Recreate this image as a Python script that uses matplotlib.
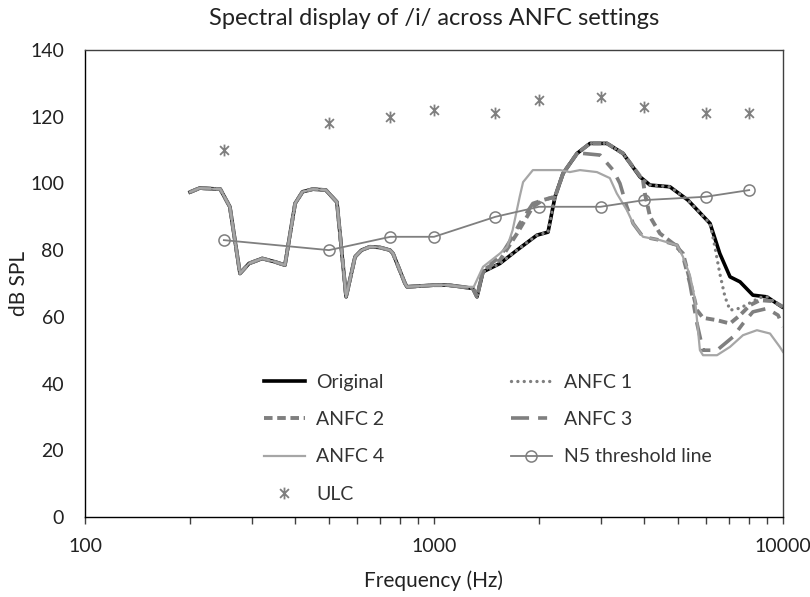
import matplotlib
matplotlib.use("Agg")
import matplotlib.pyplot as plt
from matplotlib.path import Path
from matplotlib.ticker import FixedLocator, FixedFormatter, NullFormatter, LogLocator

plt.rcParams['font.family'] = ['Lato', 'DejaVu Sans']

# ---- data ----
# shared low band (all settings identical below ~1.3 kHz)
low_freq = [200, 213, 244, 260, 278, 295, 322, 350, 374, 400, 420, 450, 490, 527,
            560, 594, 620, 655, 700, 748, 763, 826, 837, 900, 1000, 1100, 1200, 1293, 1328]
low_db = [97.4, 98.6, 98.3, 93, 73, 76, 77.5, 76.5, 75.5, 94, 97.5, 98.3, 98, 94.4,
          66, 78, 80, 81, 80.8, 80, 79, 70, 69, 69.2, 69.5, 69.5, 69, 68.5, 66]

orig_hi_freq = [1382, 1545, 1729, 1973, 2122, 2222, 2343, 2570, 2800, 3130, 3480, 3890,
                4160, 4740, 5340, 6180, 6590, 7050, 7530, 8200, 8990, 9930]
orig_hi_db = [73.5, 76, 80, 84.5, 85.4, 96, 103, 109, 112, 112, 109, 102,
              99.5, 99, 95, 88, 79, 72, 70.5, 66.5, 66, 63]

anfc1_hi_freq = [1382, 1545, 1729, 1973, 2122, 2222, 2343, 2570, 2800, 3130, 3480, 3890,
                 4160, 4740, 5340, 6180, 6380, 6590, 6820, 7050, 7530, 8150, 8590, 9000, 9930]
anfc1_hi_db = [73.5, 76, 80, 84.5, 85.4, 96, 103, 109, 112, 112, 109, 102,
               99.5, 99, 95, 88, 81, 73, 66, 62, 62.6, 64.5, 65.8, 66, 63]

anfc2_hi_freq = [1382, 1545, 1730, 1920, 2050, 2222, 2343, 2570, 2800, 3130, 3480, 3970,
                 4020, 4160, 4440, 4840, 5170, 5410, 5670, 5900, 6470, 7050, 7530, 8040,
                 8590, 9360, 10000]
anfc2_hi_db = [74, 77, 85, 93, 95, 96, 103, 109, 112, 112, 109, 101,
               97, 90, 85, 82, 79, 71, 62, 59.7, 59, 58, 60.5, 63.5,
               65, 64.7, 63]

anfc3_hi_freq = [1382, 1545, 1680, 1760, 1920, 2050, 2222, 2343, 2570, 2670, 2990, 3260,
                 3410, 3570, 3720, 3970, 4440, 4970, 5170, 5410, 5670, 5900, 6470, 7190,
                 7680, 8200, 8990, 9680, 10000]
anfc3_hi_db = [74, 78, 84, 88, 94, 95, 96, 103, 109, 109, 108.5, 104,
               100, 93, 88, 84, 83, 81.5, 78, 70, 58, 50, 50, 54,
               58, 61.5, 62.5, 60.5, 57]

anfc4_hi_freq = [1300, 1382, 1545, 1620, 1680, 1760, 1800, 1920, 2050, 2300, 2450, 2620,
                 2930, 3190, 3340, 3570, 3720, 3970, 4440, 4970, 5170, 5410, 5600, 5780,
                 5900, 6470, 7050, 7680, 8420, 9180, 9790, 10000]
anfc4_hi_db = [69, 75, 79, 81, 86, 96, 100.4, 104, 104, 104, 103.4, 104,
               103.4, 101.6, 97, 92, 88, 84, 83, 81.5, 78, 72.5, 65, 50,
               48.5, 48.5, 51, 54.5, 56, 55, 51, 49.5]

n5_freq = [250, 500, 750, 1000, 1500, 2000, 3000, 4000, 6000, 8000]
n5_db = [83, 80, 84, 84, 90, 93, 93, 95, 96, 98]

ulc_freq = [250, 500, 750, 1000, 1500, 2000, 3000, 4000, 6000, 8000]
ulc_db = [110, 118, 120, 122, 121, 125, 126, 123, 121, 121]

x_ticks = [100, 1000, 10000]
x_tick_labels = ['100', '1000', '10000']
y_ticks = [0, 20, 40, 60, 80, 100, 120, 140]

# ---- figure ----
fig = plt.figure(figsize=(8.1, 5.97), dpi=100)
ax = fig.add_axes([85 / 810, 1 - 517 / 597, 698 / 810, 467 / 597])

gray = '#7f7f7f'
lgray = '#a6a6a6'

h_orig, = ax.plot(low_freq + orig_hi_freq, low_db + orig_hi_db, color='black', lw=2.6,
                  label='Original', solid_joinstyle='round')
h_a1, = ax.plot(low_freq + anfc1_hi_freq, low_db + anfc1_hi_db, color=gray, lw=2.4,
                linestyle=(0, (0.01, 1.9)), dash_capstyle='round', label='ANFC 1')
h_a2, = ax.plot(low_freq + anfc2_hi_freq, low_db + anfc2_hi_db, color=gray, lw=2.8,
                linestyle=(0, (2.2, 1.2)), label='ANFC 2')
h_a3, = ax.plot(low_freq + anfc3_hi_freq, low_db + anfc3_hi_db, color=gray, lw=2.6,
                linestyle=(0, (5, 2.5, 2.5, 2.5)), label='ANFC 3')
h_a4, = ax.plot(low_freq[:-2] + anfc4_hi_freq, low_db[:-2] + anfc4_hi_db, color=lgray,
                lw=1.6, label='ANFC 4')
h_n5, = ax.plot(n5_freq, n5_db, color=gray, lw=1.3, marker='o', ms=8,
                mfc='none', mec=gray, mew=1.1, label='N5 threshold line')

star = Path([(0, -1), (0, 1), (-0.75, -0.75), (0.75, 0.75), (-0.75, 0.75), (0.75, -0.75)],
            [Path.MOVETO, Path.LINETO, Path.MOVETO, Path.LINETO, Path.MOVETO, Path.LINETO])
h_ulc, = ax.plot(ulc_freq, ulc_db, linestyle='none', marker=star, ms=8.5, mew=1.3,
                 color=gray, label='ULC')

ax.set_xscale('log')
ax.set_xlim(100, 10000)
ax.set_ylim(0, 140)
ax.xaxis.set_major_locator(FixedLocator(x_ticks))
ax.xaxis.set_major_formatter(FixedFormatter(x_tick_labels))
ax.xaxis.set_minor_locator(LogLocator(base=10, subs=range(2, 10)))
ax.xaxis.set_minor_formatter(NullFormatter())
ax.set_yticks(y_ticks)

ax.tick_params(axis='x', which='both', direction='out', length=5, width=1,
               color='#404040', labelsize=14, labelcolor='#222222', pad=10)
ax.tick_params(axis='y', which='both', length=0, labelsize=14, labelcolor='#222222', pad=15)
for s in ax.spines.values():
    s.set_color('#404040')
    s.set_linewidth(1.0)
ax.spines['left'].set_color('black')
ax.spines['bottom'].set_color('black')

ax.set_xlabel('Frequency (Hz)', fontsize=15, color='#222222', labelpad=11)
ax.set_ylabel('dB SPL', fontsize=15, color='#222222', labelpad=1)
ax.set_title('Spectral display of /i/ across ANFC settings', fontsize=17,
             color='#222222', pad=18)

handles = [h_orig, h_a2, h_a4, h_ulc, h_a1, h_a3, h_n5]
leg = ax.legend(handles=handles, labels=[h.get_label() for h in handles], ncol=2,
                loc='upper left', bbox_to_anchor=((264 - 85) / 698, (517 - 374) / 467),
                frameon=False, fontsize=14, handlelength=2.1, handletextpad=0.6,
                columnspacing=6.5, labelspacing=1.04, borderpad=0, borderaxespad=0)
for t in leg.get_texts():
    t.set_color('#333333')

fig.savefig('out.png', dpi=100)
